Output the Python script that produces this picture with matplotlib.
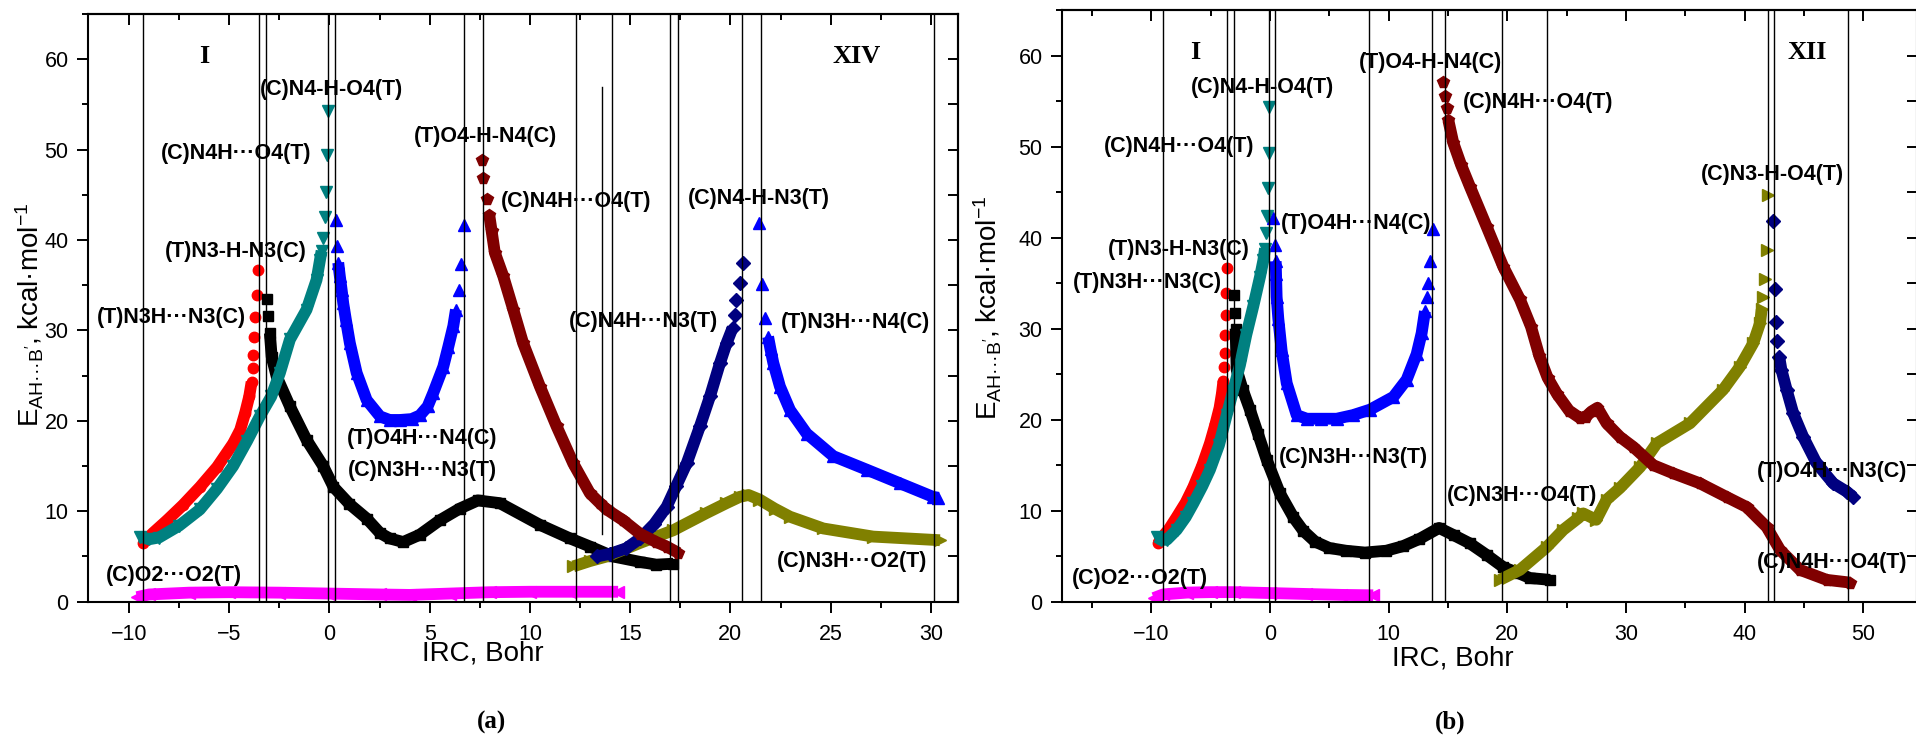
import matplotlib
matplotlib.use("Agg")
import matplotlib.pyplot as plt
from matplotlib.ticker import MultipleLocator

plt.rcParams['font.family'] = ['Liberation Sans', 'DejaVu Sans']
plt.rcParams['mathtext.fontset'] = 'custom'
plt.rcParams['mathtext.rm'] = 'Liberation Sans'
plt.rcParams['mathtext.it'] = 'Liberation Sans:italic'
plt.rcParams['mathtext.bf'] = 'Liberation Sans:bold'

DOTS = '\u00b7\u00b7\u00b7'

# ---------------- panel (a) ----------------
a_red_x = [-9.3, -8.8, -8.1, -7.3, -6.45, -5.6, -4.8, -4.45, -4.2, -4.0, -3.88, -3.83, -3.80, -3.77, -3.72, -3.63, -3.55]
a_red_y = [6.5, 7.6, 9.0, 10.7, 12.7, 14.9, 17.5, 19.0, 20.9, 22.7, 24.3, 25.8, 27.3, 29.3, 31.5, 33.9, 36.7]

a_teal_x = [-9.45, -9.0, -8.5, -7.5, -6.46, -5.6, -4.8, -4.1, -3.47, -2.9, -2.47, -1.97, -1.14, -0.64, -0.47, -0.39, -0.34, -0.22, -0.17, -0.11, -0.06]
a_teal_y = [7.2, 6.9, 7.1, 8.4, 10.2, 12.5, 15.0, 17.8, 20.5, 22.7, 25.3, 29.0, 32.3, 35.6, 37.8, 38.8, 40.2, 42.5, 45.3, 49.4, 54.3]

a_black_x = [-3.13, -3.08, -2.97, -2.88, -2.63, -1.97, -1.14, -0.31, 0.2, 1.0, 1.86, 2.52, 3.0, 3.68, 4.5, 5.5, 6.5, 7.4, 8.5, 10.5, 12.0, 13.0, 14.15, 15.5, 16.3, 17.15]
a_black_y = [33.5, 31.6, 29.7, 27.1, 24.9, 21.6, 17.9, 15.0, 12.7, 10.8, 9.2, 7.6, 7.0, 6.6, 7.4, 9.0, 10.3, 11.2, 10.9, 8.5, 7.0, 6.1, 5.0, 4.4, 4.1, 4.2]

a_blue1_x = [0.32, 0.38, 0.44, 0.52, 0.61, 0.69, 0.82, 1.02, 1.36, 1.86, 2.52, 3.0, 3.52, 4.1, 4.51, 4.9, 5.18, 5.68, 5.93, 6.18, 6.31, 6.45, 6.57, 6.72]
a_blue1_y = [42.2, 39.3, 37.5, 36.0, 34.5, 33.0, 31.2, 28.6, 25.3, 22.3, 20.5, 20.1, 20.1, 20.2, 20.6, 21.6, 23.1, 26.0, 28.2, 30.5, 32.3, 34.5, 37.3, 41.7]

a_wine_x = [7.59, 7.64, 7.84, 7.97, 8.09, 8.25, 8.67, 9.17, 9.66, 10.5, 11.33, 12.16, 12.99, 13.49, 13.83, 14.65, 15.5, 16.3, 16.82, 17.4]
a_wine_y = [48.8, 46.9, 44.5, 42.8, 41.0, 38.6, 36.0, 32.3, 28.6, 23.8, 19.4, 15.3, 12.0, 10.9, 10.2, 9.0, 7.5, 6.6, 6.1, 5.4]

a_navy_x = [13.33, 14.0, 14.8, 15.5, 16.2, 16.82, 17.3, 17.82, 18.48, 18.98, 19.48, 19.81, 20.11, 20.22, 20.27, 20.47, 20.61]
a_navy_y = [5.0, 5.3, 5.9, 7.0, 8.6, 10.5, 12.8, 15.3, 19.4, 22.7, 26.4, 28.6, 30.3, 31.7, 33.4, 35.3, 37.5]

a_blue2_x = [21.45, 21.55, 21.72, 21.88, 22.0, 22.14, 22.47, 22.97, 23.8, 25.13, 26.8, 28.45, 30.1, 30.37]
a_blue2_y = [41.9, 35.1, 31.4, 29.3, 27.9, 26.4, 23.8, 21.2, 18.6, 16.1, 14.6, 13.1, 11.6, 11.5]

a_olive_x = [12.16, 13.0, 13.83, 15.49, 17.15, 18.8, 19.8, 20.47, 20.9, 21.45, 22.2, 22.97, 24.63, 27.12, 30.45]
a_olive_y = [3.9, 4.5, 5.0, 6.5, 7.9, 9.8, 10.9, 11.6, 11.8, 11.3, 10.3, 9.4, 8.1, 7.2, 6.8]

a_mag_x = [-9.6, -9.0, -7.0, -5.0, -2.5, 0.0, 2.5, 4.0, 6.0, 8.0, 10.0, 12.0, 14.4]
a_mag_y = [0.5, 0.8, 1.0, 1.05, 1.0, 0.9, 0.8, 0.75, 0.9, 1.05, 1.1, 1.1, 1.1]

a_vlines = [-9.32, -3.53, -3.17, -0.09, 0.29, 6.70, 7.64, 12.29, 14.09, 16.98, 17.38, 20.59, 21.52, 30.16]
a_vline_part = (13.58, 7.5, 56.9)

a_labels = [
    ('(C)N4-H-O4(T)', 0.12, 56.6),
    ('(C)N4H' + DOTS + 'O4(T)', -4.67, 49.6),
    ('(T)N3-H-N3(C)', -4.66, 38.7),
    ('(T)N3H' + DOTS + 'N3(C)', -7.89, 31.4),
    ('(T)O4-H-N4(C)', 7.80, 51.5),
    ('(C)N4H' + DOTS + 'O4(T)', 12.31, 44.3),
    ('(C)N4-H-N3(T)', 21.41, 44.6),
    ('(C)N4H' + DOTS + 'N3(T)', 15.65, 31.0),
    ('(T)N3H' + DOTS + 'N4(C)', 26.23, 30.9),
    ('(T)O4H' + DOTS + 'N4(C)', 4.64, 18.0),
    ('(C)N3H' + DOTS + 'N3(T)', 4.64, 14.5),
    ('(C)O2' + DOTS + 'O2(T)', -7.73, 2.85),
    ('(C)N3H' + DOTS + 'O2(T)', 26.07, 4.43),
]
a_roman = [('I', -6.26, 60.3), ('XIV', 26.3, 60.3)]

# ---------------- panel (b) ----------------
b_red_x = [-9.41, -9.27, -8.5, -7.86, -7.1, -6.46, -5.7, -5.06, -4.6, -4.25, -4.05, -3.93, -3.85, -3.8, -3.79, -3.73, -3.68, -3.65]
b_red_y = [6.4, 6.8, 8.0, 9.3, 10.9, 12.6, 15.0, 17.4, 19.5, 21.3, 22.9, 24.2, 25.8, 27.3, 29.3, 31.5, 33.9, 36.7]

b_teal_x = [-9.55, -9.2, -8.7, -7.86, -7.1, -6.46, -5.7, -5.06, -4.3, -3.65, -3.1, -2.53, -2.0, -1.4, -0.84, -0.56, -0.42, -0.34, -0.23, -0.14, -0.06, -0.06]
b_teal_y = [7.1, 6.8, 6.8, 7.9, 9.3, 10.8, 12.7, 14.5, 17.2, 20.5, 23.2, 26.0, 29.3, 32.5, 35.7, 37.5, 38.8, 40.5, 42.4, 45.4, 49.3, 54.3]

b_black_x = [-3.03, -2.95, -2.9, -2.81, -2.3, -1.69, -1.0, -0.28, 0.84, 1.96, 2.8, 3.8, 5.0, 6.4, 8.0, 9.8, 11.2, 12.6, 14.25, 15.5, 16.85, 18.3, 19.66, 21.0, 21.91, 23.6]
b_black_y = [33.7, 31.7, 30.0, 25.5, 23.3, 21.1, 18.4, 15.6, 11.9, 9.3, 7.8, 6.6, 5.9, 5.6, 5.4, 5.6, 6.1, 6.9, 8.1, 7.3, 6.4, 5.1, 3.8, 3.1, 2.6, 2.4]

b_blue_x = [0.28, 0.42, 0.48, 0.51, 0.56, 0.7, 0.98, 1.41, 2.25, 3.1, 4.3, 5.62, 7.0, 8.43, 10.4, 11.52, 12.36, 12.78, 13.06, 13.2, 13.34, 13.48, 13.76]
b_blue_y = [42.1, 39.2, 37.4, 36.0, 33.5, 31.1, 27.6, 24.0, 20.5, 20.1, 20.1, 20.1, 20.5, 21.1, 22.5, 24.4, 27.2, 29.5, 31.9, 33.5, 35.0, 37.4, 40.9]

b_wine_x = [14.61, 14.75, 14.89, 15.03, 15.45, 16.1, 16.85, 18.26, 19.66, 21.07, 22.0, 22.7, 23.4, 24.2, 25.2, 26.1, 26.6, 27.1, 27.6, 28.37, 29.5, 30.62, 32.3, 33.99, 36.24, 38.49, 40.17, 41.86, 42.98, 44.67, 46.92, 48.88]
b_wine_y = [57.1, 55.5, 54.2, 52.9, 50.4, 48.0, 45.6, 41.2, 36.8, 33.2, 30.2, 27.0, 24.6, 22.8, 21.0, 20.2, 20.3, 20.9, 21.3, 19.6, 18.1, 17.0, 15.0, 14.1, 13.0, 11.5, 10.4, 8.2, 5.7, 3.5, 2.4, 2.1]

b_olive_x = [19.38, 21.07, 23.32, 24.72, 26.0, 26.4, 27.5, 28.37, 29.5, 31.2, 32.6, 35.4, 38.2, 39.6, 40.73, 41.3, 41.44, 41.58, 41.72, 41.86, 42.0]
b_olive_y = [2.4, 3.5, 6.0, 7.9, 9.2, 9.7, 9.0, 11.2, 12.5, 14.8, 17.4, 19.6, 23.3, 25.8, 28.4, 30.6, 32.1, 33.5, 35.5, 38.6, 44.7]

b_navy_x = [42.42, 42.56, 42.64, 42.75, 42.92, 43.1, 43.54, 44.1, 44.94, 46.07, 47.47, 48.6, 49.16]
b_navy_y = [41.8, 34.3, 30.7, 28.6, 26.9, 25.5, 23.3, 20.7, 18.1, 15.2, 13.0, 12.1, 11.5]

b_mag_x = [-9.8, -9.0, -7.0, -5.0, -3.0, 0.0, 3.0, 6.0, 8.7]
b_mag_y = [0.4, 0.8, 1.0, 1.05, 1.05, 0.95, 0.85, 0.75, 0.7]

b_vlines = [-8.99, -3.65, -3.03, -0.06, 0.45, 8.32, 13.68, 14.75, 19.58, 23.32, 41.94, 42.47, 48.74]

b_labels = [
    ('(C)N4-H-O4(T)', -0.63, 56.5),
    ('(C)N4H' + DOTS + 'O4(T)', -7.68, 50.0),
    ('(T)O4H' + DOTS + 'N4(C)', 7.23, 41.6),
    ('(T)N3-H-N3(C)', -7.65, 38.7),
    ('(T)N3H' + DOTS + 'N3(C)', -10.37, 35.1),
    ('(T)O4-H-N4(C)', 13.51, 59.2),
    ('(C)N4H' + DOTS + 'O4(T)', 22.56, 54.8),
    ('(C)N3-H-O4(T)', 42.33, 46.9),
    ('(C)N3H' + DOTS + 'N3(T)', 7.0, 15.8),
    ('(C)N3H' + DOTS + 'O4(T)', 21.28, 11.7),
    ('(T)O4H' + DOTS + 'N3(C)', 47.4, 14.3),
    ('(C)N4H' + DOTS + 'O4(T)', 47.4, 4.33),
    ('(C)O2' + DOTS + 'O2(T)', -10.96, 2.57),
]
b_roman = [('I', -6.32, 60.3), ('XII', 45.28, 60.3)]

RED, TEAL, BLUE = '#ff0000', '#008080', '#0000ff'
WINE, NAVY, OLIVE, MAG = '#800000', '#000080', '#808000', '#ff00ff'

YLABEL = "E$_{\\mathregular{AH" + DOTS + "B'}}$, kcal\u00b7mol$^{\\mathregular{-1}}$"


def series(ax, x, y, color, marker, ms, head=0, tail=0, z=3):
    # thick line for the dense run of points, bare markers for the sparse ends
    n = len(x)
    ax.plot(x[head:n - tail], y[head:n - tail], color=color, lw=8.5,
            solid_joinstyle='round', solid_capstyle='butt', zorder=z)
    ax.plot(x, y, ls='none', marker=marker, ms=ms, color=color, mec=color, zorder=z)


def frame(ax, xlim, xmaj, xmin):
    ax.set_xlim(*xlim)
    ax.set_ylim(0, 65)
    ax.xaxis.set_major_locator(MultipleLocator(xmaj))
    ax.xaxis.set_minor_locator(MultipleLocator(xmin))
    ax.yaxis.set_major_locator(MultipleLocator(10))
    ax.yaxis.set_minor_locator(MultipleLocator(5))
    ax.tick_params(which='major', direction='out', length=8, width=1.4, labelsize=15.5)
    ax.tick_params(which='minor', direction='out', length=4.5, width=1.4)
    ax.tick_params(axis='x', which='major', pad=8)
    ax.tick_params(axis='y', which='major', pad=6)
    for s in ax.spines.values():
        s.set_linewidth(1.5)
    top = ax.secondary_xaxis('top')
    top.xaxis.set_major_locator(MultipleLocator(xmaj))
    top.xaxis.set_minor_locator(MultipleLocator(xmin))
    top.tick_params(which='major', direction='in', length=8, width=1.4, labeltop=False)
    top.tick_params(which='minor', direction='in', length=4.5, width=1.4)
    right = ax.secondary_yaxis('right')
    right.yaxis.set_major_locator(MultipleLocator(10))
    right.yaxis.set_minor_locator(MultipleLocator(5))
    right.tick_params(which='both', direction='in', length=7, width=1.4, labelright=False)
    for sec in (top, right):
        for s in sec.spines.values():
            s.set_linewidth(1.5)
    ax.set_xlabel('IRC, Bohr', fontsize=20)
    ax.set_ylabel(YLABEL, fontsize=20)


def texts(ax, labels, roman):
    for t, x, y in labels:
        ax.text(x, y, t, fontsize=15.5, fontweight='bold', ha='center', va='center', zorder=6)
    for t, x, y in roman:
        ax.text(x, y, t, fontsize=19, fontweight='bold', family='Liberation Serif',
                ha='center', va='center', zorder=6)


fig = plt.figure(figsize=(19.16, 7.38), dpi=100)
ax1 = fig.add_axes([88 / 1916, 136.3 / 738, 870 / 1916, 587.7 / 738])
ax2 = fig.add_axes([1062 / 1916, 136.3 / 738, 855 / 1916, 591.7 / 738])

# (a)
frame(ax1, (-12.04, 31.35), 5, 2.5)
series(ax1, a_mag_x, a_mag_y, MAG, '<', 8, z=2)
series(ax1, a_red_x, a_red_y, RED, 'o', 7.5, tail=6)
series(ax1, a_teal_x, a_teal_y, TEAL, 'v', 8.5, tail=5, z=4)
series(ax1, a_black_x, a_black_y, 'black', 's', 6.5, head=2)
series(ax1, a_blue1_x, a_blue1_y, BLUE, '^', 8.5, head=2, tail=3)
series(ax1, a_olive_x, a_olive_y, OLIVE, '>', 8)
series(ax1, a_navy_x, a_navy_y, NAVY, 'D', 7, tail=4)
series(ax1, a_wine_x, a_wine_y, WINE, 'p', 8.5, head=3)
series(ax1, a_blue2_x, a_blue2_y, BLUE, '^', 8.5, head=3)
for v in a_vlines:
    ax1.axvline(v, color='black', lw=1.0, zorder=5)
ax1.axvline(a_vline_part[0], ymin=a_vline_part[1] / 65, ymax=a_vline_part[2] / 65,
            color='black', lw=1.0, zorder=5)
texts(ax1, a_labels, a_roman)
ax1.xaxis.set_label_coords(0.454, -0.066)
ax1.yaxis.set_label_coords(-0.048, 0.488)

# (b)
frame(ax2, (-17.53, 54.53), 10, 5)
series(ax2, b_mag_x, b_mag_y, MAG, '<', 8, z=2)
series(ax2, b_red_x, b_red_y, RED, 'o', 7.5, tail=6)
series(ax2, b_teal_x, b_teal_y, TEAL, 'v', 8.5, tail=5, z=4)
series(ax2, b_black_x, b_black_y, 'black', 's', 6.5, head=2)
series(ax2, b_blue_x, b_blue_y, BLUE, '^', 8.5, head=2, tail=4)
series(ax2, b_olive_x, b_olive_y, OLIVE, '>', 8, tail=4)
series(ax2, b_wine_x, b_wine_y, WINE, 'p', 8.5, head=3)
series(ax2, b_navy_x, b_navy_y, NAVY, 'D', 7, head=4)
for v in b_vlines:
    ax2.axvline(v, color='black', lw=1.0, zorder=5)
texts(ax2, b_labels, b_roman)
ax2.xaxis.set_label_coords(0.457, -0.074)
ax2.yaxis.set_label_coords(-0.068, 0.497)

fig.text(492 / 1916, 1 - 722 / 738, '(a)', fontsize=18, fontweight='bold',
         family='Liberation Serif', ha='center', va='center')
fig.text(1450 / 1916, 1 - 722 / 738, '(b)', fontsize=18, fontweight='bold',
         family='Liberation Serif', ha='center', va='center')

fig.savefig('out.png', dpi=100)
